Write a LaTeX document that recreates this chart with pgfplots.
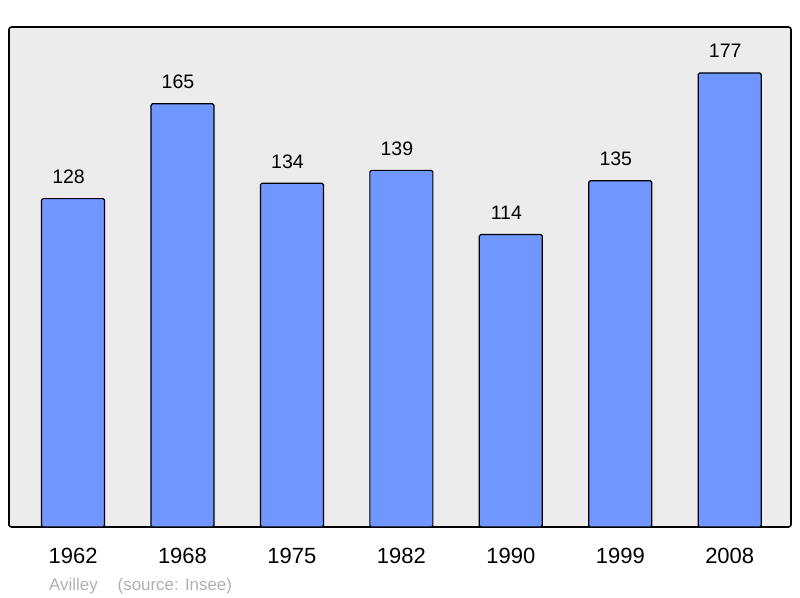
\documentclass[border=0pt]{standalone}
\usepackage{pgfplots}
\pgfplotsset{compat=1.18}
\usepackage{fontspec}
\setmainfont{Liberation Sans}
\definecolor{barblue}{RGB}{112,151,255}
\definecolor{bggray}{RGB}{236,236,236}
\definecolor{srcgray}{RGB}{176,176,176}
\begin{document}
\begin{tikzpicture}[x=1bp,y=1bp]
\useasboundingbox (0,0) rectangle (800,598);
\begin{axis}[
  at={(9bp,71bp)}, anchor=south west,
  scale only axis, width=782bp, height=500bp,
  xmin=-0.585, xmax=6.56, ymin=0, ymax=194.9,
  /pgf/number format/assume math mode=true,
  axis background/.style={fill=bggray},
  axis line style={line width=1.6pt, rounded corners=2.5bp},
  ytick=\empty, xtick=data,
  xticklabels={1962,1968,1975,1982,1990,1999,2008},
  xtick style={draw=none},
  xticklabel style={font=\fontsize{22bp}{24bp}\selectfont, text=black, anchor=base, yshift=-37bp},
  major tick length=0pt,
  ybar, bar width=63bp,
  nodes near coords,
  every node near coord/.append style={font=\fontsize{19.5bp}{22bp}\selectfont, text=black, anchor=base, yshift=15bp, xshift=-4.5bp},
  clip=false,
]
\addplot[fill=barblue, draw=black, line width=1.2pt, rounded corners=1.5bp] coordinates {
(0,128) (1,165) (2,134) (3,139) (4,114) (5,135) (6,177)};
\end{axis}
\node[anchor=base west, text=srcgray, font=\fontsize{16.9bp}{18bp}\selectfont, inner sep=0] at (49,7.3) {Avilley\hspace{20bp}(source: Insee)};
\end{tikzpicture}
\end{document}
